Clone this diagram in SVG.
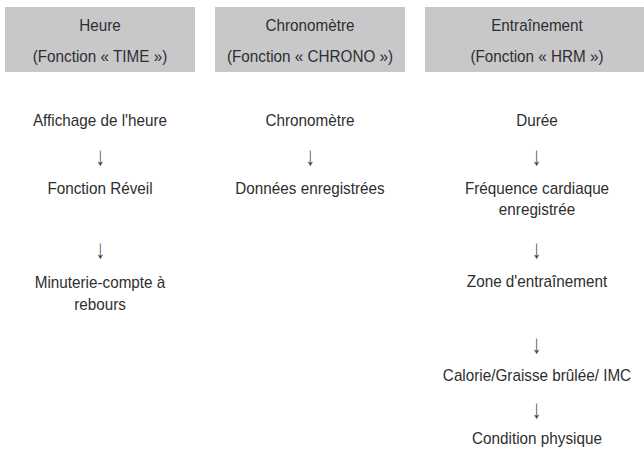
<svg xmlns="http://www.w3.org/2000/svg" width="644" height="452" viewBox="0 0 644 452">
<style>
.hdr{fill:#c8c8ca;}
.t{font-family:"Liberation Sans",Arial,sans-serif;font-size:16.6px;fill:#2e2e2e;text-anchor:middle;}
.a{font-family:"Liberation Sans",Arial,sans-serif;font-size:26px;fill:#444444;text-anchor:middle;}
</style>
<rect width="644" height="452" fill="#ffffff"/>
<g id="header-time">
<rect class="hdr" x="5" y="7" width="190" height="65"/>
<text class="t" transform="translate(100 31) scale(0.92 1)">Heure</text>
<text class="t" transform="translate(100 62) scale(0.92 1)">(Fonction « TIME »)</text>
</g>
<g id="header-chrono">
<rect class="hdr" x="215" y="7" width="190" height="65"/>
<text class="t" transform="translate(310 31) scale(0.92 1)">Chronomètre</text>
<text class="t" transform="translate(310 62) scale(0.92 1)">(Fonction « CHRONO »)</text>
</g>
<g id="header-hrm">
<rect class="hdr" x="425" y="7" width="219" height="65"/>
<text class="t" transform="translate(537 31) scale(0.92 1)">Entraînement</text>
<text class="t" transform="translate(537 62) scale(0.92 1)">(Fonction « HRM »)</text>
</g>
<g id="n-affichage"><text class="t" transform="translate(100 126) scale(0.92 1)">Affichage de l'heure</text></g>
<g id="n-reveil"><text class="t" transform="translate(100 194) scale(0.92 1)">Fonction Réveil</text></g>
<g id="n-minuterie"><text class="t" transform="translate(100 288) scale(0.92 1)">Minuterie-compte à</text><text class="t" transform="translate(100 310) scale(0.92 1)">rebours</text></g>
<g id="n-chrono"><text class="t" transform="translate(310 126) scale(0.92 1)">Chronomètre</text></g>
<g id="n-donnees"><text class="t" transform="translate(310 194) scale(0.92 1)">Données enregistrées</text></g>
<g id="n-duree"><text class="t" transform="translate(537 126) scale(0.92 1)">Durée</text></g>
<g id="n-frequence"><text class="t" transform="translate(537 194) scale(0.92 1)">Fréquence cardiaque</text><text class="t" transform="translate(537 215) scale(0.92 1)">enregistrée</text></g>
<g id="n-zone"><text class="t" transform="translate(537 287) scale(0.92 1)">Zone d'entraînement</text></g>
<g id="n-calorie"><text class="t" transform="translate(537 381) scale(0.92 1)">Calorie/Graisse brûlée/ IMC</text></g>
<g id="n-condition"><text class="t" transform="translate(537 444) scale(0.92 1)">Condition physique</text></g>
<g id="connectors">
<text class="a" transform="translate(100.4 165) scale(0.7 1)">↓</text>
<text class="a" transform="translate(100.4 258) scale(0.7 1)">↓</text>
<text class="a" transform="translate(310.4 165) scale(0.7 1)">↓</text>
<text class="a" transform="translate(536.6 165) scale(0.7 1)">↓</text>
<text class="a" transform="translate(536.6 258) scale(0.7 1)">↓</text>
<text class="a" transform="translate(536.6 353) scale(0.7 1)">↓</text>
<text class="a" transform="translate(536.6 418) scale(0.7 1)">↓</text>
</g>
</svg>
